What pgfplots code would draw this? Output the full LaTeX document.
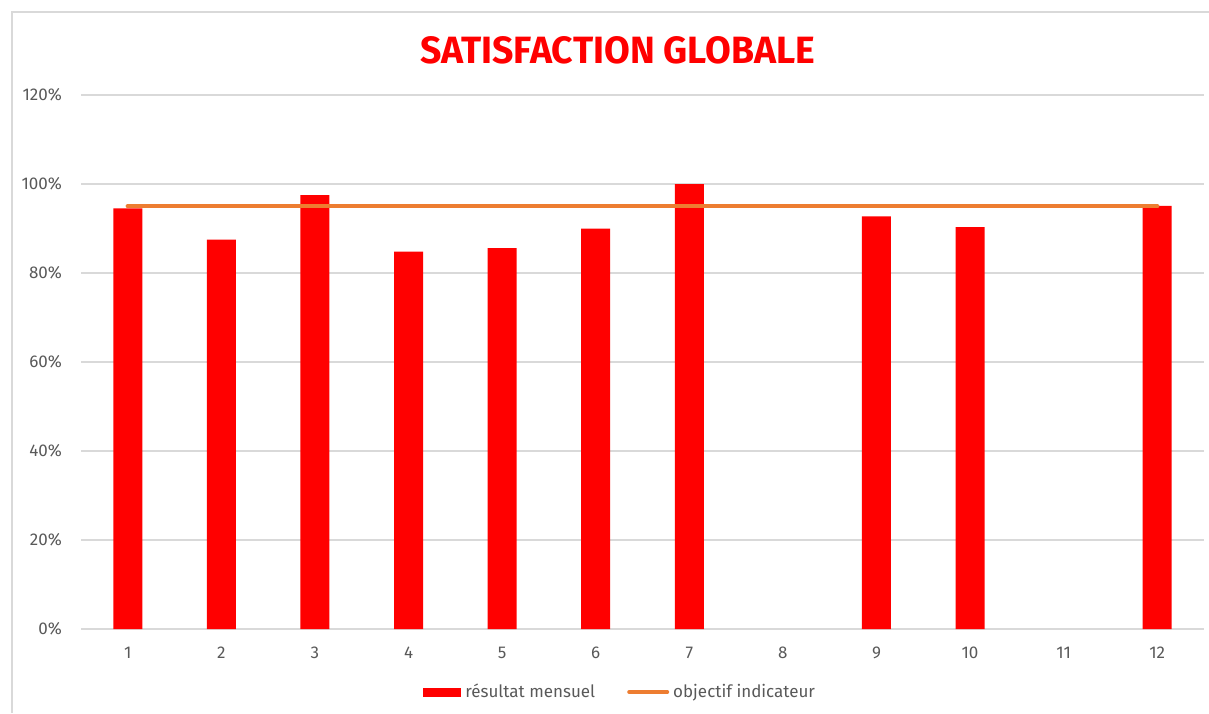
\documentclass[border=0pt]{standalone}
\usepackage{fontspec}
\setmainfont{Fira Sans}
\usepackage{pgfplots}
\pgfplotsset{compat=1.18}
\definecolor{barred}{HTML}{FF0000}
\definecolor{objorange}{HTML}{ED7D31}
\definecolor{gridgray}{HTML}{D9D9D9}
\definecolor{txtgray}{HTML}{595959}
\definecolor{framegray}{HTML}{D9D9D9}
\begin{document}
\begin{tikzpicture}[x=1pt,y=1pt]
\path[use as bounding box] (0,0) rectangle (604.5,356.5);
% chart frame (top and left edges visible)
\draw[framegray, line width=0.75pt] (6,0) -- (6,350.5) -- (604.5,350.5);
% title
\node[text=barred, anchor=center] at (308.75,331.25)
  {\resizebox{197.5pt}{13.5pt}{\bfseries SATISFACTION GLOBALE}};
\begin{axis}[
  at={(40.5pt,42pt)}, anchor=south west,
  scale only axis, width=561.5pt, height=267pt,
  xmin=0.5, xmax=12.5, ymin=0, ymax=120,
  xtick={1,...,12}, ytick={0,20,...,120},
  yticklabel={\pgfmathprintnumber{\tick}\%},
  /pgf/number format/assume math mode=true,
  ymajorgrids, grid style={gridgray, line width=0.75pt},
  axis line style={draw=none},
  major tick length=0pt,
  tick label style={font=\fontsize{8.5}{10}\selectfont, text=txtgray},
  yticklabel style={xshift=-6pt},
  xticklabel style={yshift=-5.5pt},
  clip=false,
  legend columns=2,
  legend style={draw=none, fill=none, at={(0.481,-0.118)}, anchor=center,
    font=\fontsize{8.5}{10}\selectfont, text=txtgray,
    /tikz/every even column/.append style={column sep=14pt}},
]
\addplot[ybar, bar width=14.5pt, fill=barred, draw=none,
  legend image code/.code={\fill[barred] (0pt,-2.25pt) rectangle (19pt,2.25pt);}]
  coordinates {(1,94.5) (2,87.5) (3,97.5) (4,84.8) (5,85.6) (6,90.0) (7,100) (9,92.7) (10,90.3) (12,95.1)};
\addlegendentry{résultat mensuel}
\addplot[objorange, line width=2.2pt, line cap=round,
  legend image code/.code={\draw[objorange, line width=2pt, line cap=round] (0pt,0pt) -- (19pt,0pt);}]
  coordinates {(1,95) (2,95) (3,95) (4,95) (5,95) (6,95) (7,95) (8,95) (9,95) (10,95) (11,95) (12,95)};
\addlegendentry{objectif indicateur}
\end{axis}
\end{tikzpicture}
\end{document}
